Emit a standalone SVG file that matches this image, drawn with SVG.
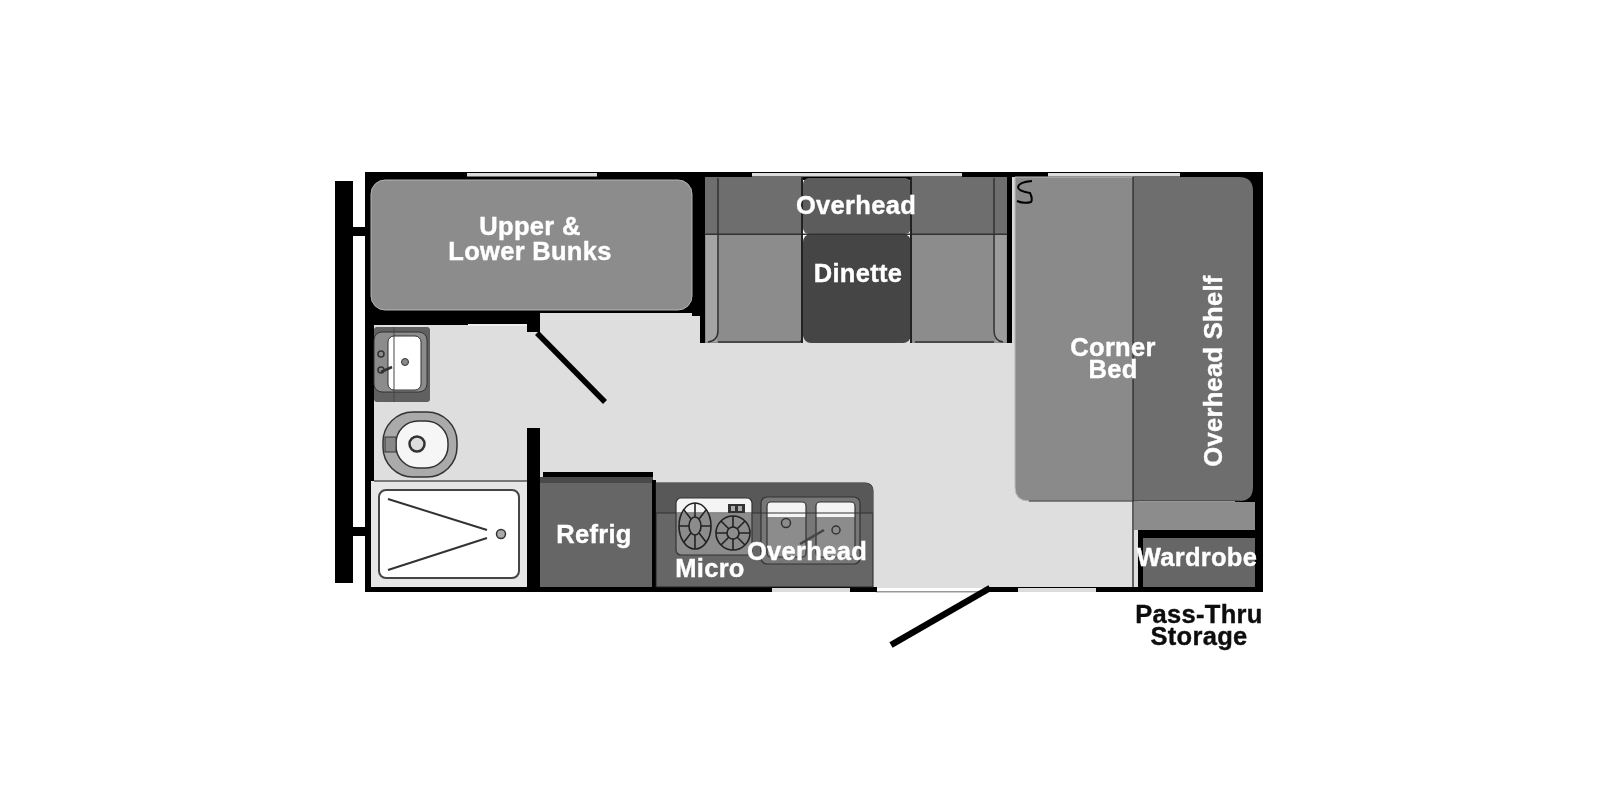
<svg xmlns="http://www.w3.org/2000/svg" width="1600" height="800" viewBox="0 0 1600 800">
<defs>
<filter id="soft" x="0" y="0" width="1600" height="800" filterUnits="userSpaceOnUse"><feGaussianBlur stdDeviation="0.6"/></filter>
<linearGradient id="stoveFill" x1="0" y1="0" x2="0" y2="1"><stop offset="0.27" stop-color="#f4f4f4"/><stop offset="0.28" stop-color="#8c8c8c"/></linearGradient>
</defs>
<style>
text{font-family:"Liberation Sans",Arial,sans-serif;font-weight:700;font-size:25.5px;letter-spacing:0.3px;text-anchor:middle;stroke-width:0.4px}
.w{fill:#fff;stroke:#fff}
.k{fill:#111;stroke:#111}
.wall{fill:#000}
.win{fill:#dcdcdc}
.ln{fill:none;stroke:#333;stroke-width:1.5}
.sp{stroke:#222;stroke-width:1.6;fill:none}
</style>
<rect width="1600" height="800" fill="#fff"/>
<g filter="url(#soft)">
<!-- floor -->
<rect x="374" y="313" width="764" height="275" fill="#dedede"/>
<rect x="876" y="591" width="112" height="1.5" fill="#999"/>
<!-- exterior shell -->
<rect class="wall" x="335" y="181" width="18" height="402"/>
<rect class="wall" x="353" y="227" width="12" height="9"/>
<rect class="wall" x="353" y="527" width="12" height="9"/>
<rect class="wall" x="365" y="172" width="898" height="8"/>
<rect class="wall" x="365" y="172" width="9" height="420"/>
<rect class="wall" x="365" y="587" width="512" height="5"/>
<rect class="wall" x="987" y="587" width="276" height="5"/>
<rect class="wall" x="1235" y="172" width="28" height="340"/>
<rect class="wall" x="1253" y="172" width="10" height="420"/>
<rect class="wall" x="371" y="180" width="334" height="133"/>
<rect class="wall" x="692" y="180" width="13" height="136"/>
<rect class="wall" x="700" y="313" width="5" height="30"/>
<rect class="wall" x="365" y="310" width="175" height="15"/>
<rect x="468" y="324" width="62" height="2" fill="#eee"/>
<rect class="wall" x="527" y="322" width="13" height="10"/>
<!-- windows -->
<rect class="win" x="467" y="173" width="130" height="3.5"/>
<rect class="win" x="752" y="173" width="210" height="3.5"/>
<rect class="win" x="1048" y="173" width="132" height="3.5"/>
<rect class="win" x="772" y="588" width="78" height="4"/>
<rect class="win" x="1018" y="588" width="78" height="4"/>
<!-- bunks -->
<g id="bunks"><rect x="371" y="180" width="321" height="130" rx="14" fill="#8c8c8c" stroke="#b4b4b4" stroke-width="1"/></g>
<!-- dinette -->
<g id="dinette">
<rect x="705" y="177" width="97" height="57" fill="#6e6e6e"/>
<rect x="705" y="234" width="97" height="109" fill="#8c8c8c"/>
<rect x="911" y="177" width="96" height="57" fill="#6e6e6e"/>
<rect x="911" y="234" width="96" height="109" fill="#8c8c8c"/>
<rect x="803" y="178" width="108" height="56" rx="6" fill="#5c5c5c"/>
<rect x="803" y="234" width="108" height="109" rx="8" fill="#444"/>
<rect x="706" y="235" width="11" height="107" fill="#a4a4a4"/>
<rect x="995" y="235" width="11" height="107" fill="#9c9c9c"/>
<path class="ln" d="M718 178V330Q718 341 708 342M718 342H799Q802 342 802 338M915 342H994M994 178V330Q994 341 1003 342"/>
<rect x="705" y="233.500" width="302" height="1.500" fill="#333"/>
<rect x="801" y="177" width="2" height="166" fill="#222"/>
<rect x="910" y="177" width="2" height="166" fill="#222"/>
<rect class="wall" x="1007" y="177" width="5" height="166"/>
<rect x="1012" y="177" width="3" height="166" fill="#d8d8d8"/>
</g>
<!-- corner bed and storage -->
<g id="corner-bed">
<path d="M1015 177H1133V501H1029Q1015 501 1015 487Z" fill="#8a8a8a" stroke="#bbb" stroke-width="1"/>
<path d="M1133 177H1239Q1253 177 1253 191V487Q1253 501 1239 501H1133Z" fill="#6e6e6e"/>
<path d="M1029 501H1240" stroke="#333" stroke-width="1.200" fill="none"/>
<rect x="1134" y="502" width="121" height="28" fill="#8c8c8c"/>
<path d="M1133 177V587" stroke="#333" stroke-width="1.500" fill="none"/>
<path class="sp" style="stroke:#000;stroke-width:2" d="M1032 181Q1019 182 1018 187Q1018 191 1030 193Q1033 199 1031 202Q1024 204 1017 201"/>
</g>
<g id="wardrobe">
<rect class="wall" x="1138" y="530" width="117" height="8"/>
<rect class="wall" x="1138" y="530" width="5" height="58"/>
<rect x="1143" y="538" width="112" height="49" fill="#666"/>
</g>
<!-- bathroom -->
<g id="bath-sink">
<rect x="374" y="327" width="56" height="75" rx="3" fill="#606060"/>
<rect x="374" y="332" width="53" height="60" rx="8" fill="#8c8c8c" stroke="#333" stroke-width="1"/>
<rect x="388" y="336" width="33" height="54" rx="6" fill="#fff" stroke="#333" stroke-width="1"/>
<path d="M394 327V402" stroke="#444" stroke-width="1" fill="none"/>
<circle cx="405" cy="362" r="3.500" fill="#888" stroke="#333"/>
<circle cx="381" cy="354" r="3" fill="none" stroke="#333" stroke-width="1.500"/>
<circle cx="381" cy="370" r="3" fill="none" stroke="#333" stroke-width="1.500"/>
<path d="M381 372L392 367" stroke="#333" stroke-width="2.500" fill="none"/>
</g>
<g id="toilet">
<rect x="383" y="412" width="74" height="65" rx="30" fill="#aaa" stroke="#333" stroke-width="1.500"/>
<rect x="396" y="421" width="52" height="47" rx="22" fill="#f6f6f6" stroke="#333" stroke-width="1.500"/>
<rect x="385" y="437" width="11" height="15" fill="#888" stroke="#333"/>
<circle cx="417" cy="444" r="7.500" fill="#ddd" stroke="#333" stroke-width="2.500"/>
</g>
<g id="shower">
<rect x="371" y="481" width="156" height="106" fill="#e6e6e6"/>
<path d="M374 481H527" stroke="#555" stroke-width="1.500" fill="none"/>
<rect x="379" y="490" width="140" height="88" rx="7" fill="#fff" stroke="#444" stroke-width="2"/>
<path d="M388 499L487 530M388 570L487 538" stroke="#333" stroke-width="2" fill="none"/>
<circle cx="501" cy="534" r="4.500" fill="#aaa" stroke="#333" stroke-width="1.500"/>
</g>
<rect class="wall" x="527" y="428" width="13" height="164"/>
<path d="M537 333L605 402" stroke="#000" stroke-width="5.500" fill="none"/>
<path d="M990 588L891 645" stroke="#000" stroke-width="6.500" fill="none"/>
<!-- refrigerator -->
<g id="refrig">
<rect class="wall" x="543" y="472" width="110" height="5"/>
<rect x="540" y="477" width="113" height="6" fill="#4a4a4a"/>
<rect x="540" y="483" width="112" height="104" fill="#666"/>
<rect class="wall" x="652" y="480" width="4" height="110"/>
</g>
<!-- kitchen -->
<g id="kitchen">
<path d="M656 483H865Q873 483 873 491V587H656Z" fill="#666" stroke="#222" stroke-width="1"/>
<path d="M656 483H865Q873 483 873 491V513H656Z" fill="#585858"/>
<rect x="676" y="498" width="76" height="57" rx="5" fill="url(#stoveFill)" stroke="#333" stroke-width="1.200"/>
<g class="sp">
<ellipse cx="695" cy="526" rx="16" ry="23"/>
<ellipse cx="695" cy="526" rx="6" ry="9"/>
<path d="M695 503V517M695 535V549M679 526H689M701 526H711M684 510L691 519M706 510L699 519M684 542L691 533M706 542L699 533"/>
<circle cx="733" cy="533" r="17"/>
<circle cx="733" cy="533" r="6"/>
<path d="M733 516V527M733 539V550M716 533H727M739 533H750M721 521L729 529M745 521L737 529M721 545L729 537M745 545L737 537"/>
</g>
<rect x="728" y="504" width="17" height="9" fill="#333"/>
<rect x="731" y="506" width="4" height="5" fill="#aaa"/>
<rect x="738" y="506" width="4" height="5" fill="#aaa"/>
<rect x="761" y="497" width="99" height="67" rx="6" fill="#777" stroke="#333" stroke-width="1.200"/>
<rect x="767" y="502" width="39" height="55" rx="4" fill="url(#stoveFill)" stroke="#333" stroke-width="1.200"/>
<rect x="816" y="502" width="39" height="55" rx="4" fill="url(#stoveFill)" stroke="#333" stroke-width="1.200"/>
<circle cx="786" cy="523" r="4.500" fill="none" stroke="#333" stroke-width="1.500"/>
<circle cx="836" cy="530" r="4" fill="none" stroke="#333" stroke-width="1.500"/>
<path d="M800 544L824 530" stroke="#444" stroke-width="2.500" fill="none"/>
<path d="M656 513H873" stroke="#333" stroke-width="1" fill="none"/>
</g>
<!-- labels -->
<g id="labels">
<text class="w" x="530" y="235">Upper &amp;</text>
<text class="w" x="530" y="260">Lower Bunks</text>
<text class="w" x="856" y="214">Overhead</text>
<text class="w" x="858" y="282">Dinette</text>
<text class="w" x="1113" y="356">Corner</text>
<text class="w" x="1113" y="378">Bed</text>
<text class="w" transform="translate(1222 371) rotate(-90)">Overhead Shelf</text>
<text class="w" x="594" y="543">Refrig</text>
<text class="w" x="710" y="577">Micro</text>
<text class="w" x="807" y="560">Overhead</text>
<text class="w" x="1197" y="566">Wardrobe</text>
<text class="k" x="1199" y="623">Pass-Thru</text>
<text class="k" x="1199" y="645">Storage</text>
</g>
</g>
</svg>
